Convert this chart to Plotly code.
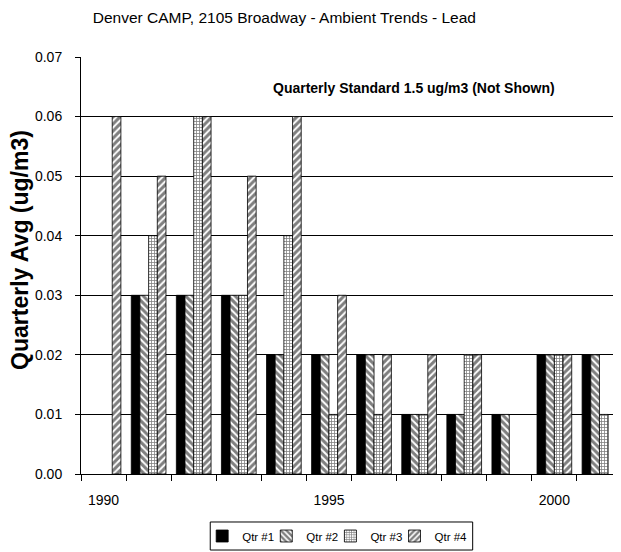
import plotly.graph_objects as go

# Quarterly lead averages (ug/m3), Denver CAMP
years = [1990, 1991, 1992, 1993, 1994, 1995, 1996, 1997, 1998, 1999, 2000, 2001]
qtr1 = [None, 0.03, 0.03, 0.03, 0.02, 0.02, 0.02, 0.01, 0.01, 0.01, 0.02, 0.02]
qtr2 = [None, 0.03, 0.03, 0.03, 0.02, 0.02, 0.02, 0.01, 0.01, 0.01, 0.02, 0.02]
qtr3 = [None, 0.04, 0.06, 0.03, 0.04, 0.01, 0.01, 0.01, 0.02, None, 0.02, 0.01]
qtr4 = [0.06, 0.05, 0.06, 0.05, 0.06, 0.03, 0.02, 0.02, 0.02, None, 0.02, None]
label_years = [1990, 1995, 2000]
boundaries = [y - 0.5 for y in years] + [years[-1] + 0.5]

series = [
    ('Qtr #1', qtr1, dict(color='black')),
    ('Qtr #2', qtr2, dict(color='white', pattern=dict(shape='\\', fgcolor='black', bgcolor='white', size=5, solidity=0.6))),
    ('Qtr #3', qtr3, dict(color='white', pattern=dict(shape='+', fgcolor='black', bgcolor='white', size=3, solidity=0.45))),
    ('Qtr #4', qtr4, dict(color='white', pattern=dict(shape='/', fgcolor='black', bgcolor='white', size=5, solidity=0.6))),
]

# one small legend per series so the entries can sit as tightly as in the original
legend_ids = ['legend', 'legend2', 'legend3', 'legend4']
legend_x0 = 0.224
legend_step = 0.1185

fig = go.Figure()
for i, (name, vals, marker) in enumerate(series):
    marker['line'] = dict(color='black', width=0.8)
    fig.add_trace(go.Bar(x=years, y=vals, name=name, marker=marker, legend=legend_ids[i]))

legends = {}
for i, lid in enumerate(legend_ids):
    legends[lid] = dict(orientation='h', x=legend_x0 + i * legend_step, xanchor='left',
                        y=-0.1487, yanchor='middle', bgcolor='rgba(0,0,0,0)', borderwidth=0,
                        font=dict(size=11.5, color='black'), itemwidth=30)

# page body adds an 8px offset, margins below account for it
fig.update_layout(
    width=621, height=552,
    margin=dict(l=73, r=7, t=49, b=86, autoexpand=False),
    paper_bgcolor='white', plot_bgcolor='white',
    font=dict(family='Arial', size=14, color='black'),
    barmode='group', bargap=0.23, bargroupgap=0,
    title=dict(text='Denver CAMP, 2105 Broadway - Ambient Trends - Lead',
               x=0.445, xanchor='center', y=0.982, yanchor='middle',
               font=dict(size=15.5, color='black')),
    showlegend=True,
    annotations=[
        dict(text='<b>Quarterly Standard 1.5 ug/m3 (Not Shown)</b>',
             xref='paper', yref='paper', x=0.615, y=0.926,
             xanchor='center', yanchor='middle', showarrow=False,
             font=dict(size=14, color='black')),
        dict(text='<b>Quarterly Avg (ug/m3)</b>', textangle=-90,
             xref='paper', yref='paper', x=-0.113, y=0.537,
             xanchor='center', yanchor='middle', showarrow=False,
             font=dict(size=23, color='black')),
    ],
    shapes=[dict(type='rect', xref='paper', yref='paper',
                 x0=0.2389, x1=0.724, y0=-0.1823, y1=-0.1151,
                 line=dict(color='black', width=1), fillcolor='rgba(0,0,0,0)', layer='below')],
    **legends,
)

fig.update_xaxes(
    range=[boundaries[0], boundaries[-1]], automargin=False,
    tickvals=label_years, ticktext=[str(y) for y in label_years],
    ticks='', ticklabelstandoff=13,
    showline=True, linecolor='black', linewidth=1,
    showgrid=False, zeroline=False,
    minor=dict(tickvals=boundaries, ticks='outside', ticklen=6, tickcolor='black', showgrid=False),
)
fig.update_yaxes(
    range=[0, 0.07], dtick=0.01, tickformat='.2f', automargin=False,
    ticks='outside', ticklen=5, tickcolor='black', ticklabelstandoff=10,
    showline=True, linecolor='black', linewidth=1,
    showgrid=True, gridcolor='black', gridwidth=1, zeroline=False,
)

fig.write_html('out.html')
